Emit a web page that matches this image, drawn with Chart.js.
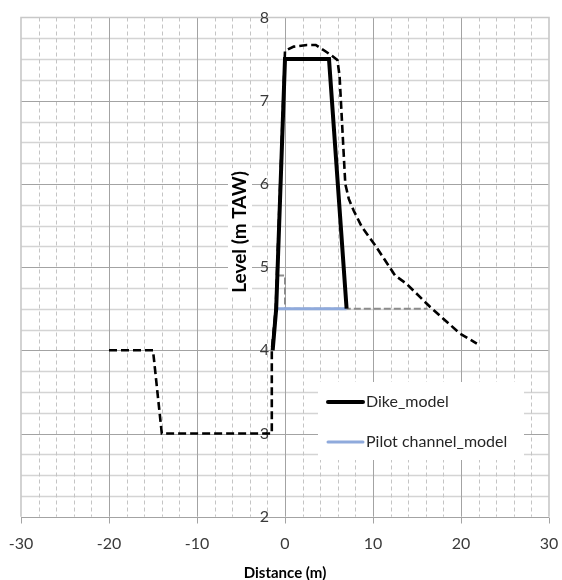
<!DOCTYPE html>
<html>
<head>
<meta charset="utf-8">
<script src="https://cdn.jsdelivr.net/npm/chart.js@4.4.1/dist/chart.umd.min.js"></script>
<style>
  html, body { margin: 0; padding: 0; background: #ffffff; }
  #wrap { width: 562px; height: 580px; position: relative; }
</style>
</head>
<body>
<div id="wrap"><canvas id="c"></canvas></div>
<script>
// ---- data ----
const xTickLabels = [-30, -20, -10, 0, 10, 20, 30];
const yTickLabels = [2, 3, 4, 5, 6, 7, 8];

const dikeX = [-1.4, -1.0, 0, 5, 7];
const dikeY = [4.0, 4.5, 7.5, 7.5, 4.5];

const pilotX = [-1.0, 7.0];
const pilotY = [4.5, 4.5];

const channelRefX = [-0.9, 0, 0, 16.2];
const channelRefY = [4.9, 4.9, 4.5, 4.5];

const profileX = [-20, -15, -14, -1.5, -1.5, -1.05, 0, 1, 2.5, 3.5, 4.5, 5.2, 5.95, 6.2, 6.35, 6.6, 6.85, 7.25, 7.8, 8.7, 9.5, 10.2, 12.5, 13.8, 16.5, 19.9, 21.8];
const profileY = [4.0, 4.0, 3.0, 3.0, 4.0, 4.5, 7.6, 7.65, 7.67, 7.67, 7.6, 7.55, 7.49, 7.3, 7.0, 6.5, 6.0, 5.82, 5.68, 5.49, 5.37, 5.27, 4.9, 4.8, 4.52, 4.2, 4.08];

const legendLabels = ['Dike_model', 'Pilot channel_model'];
const xTitle = 'Distance (m)';
const yTitle = 'Level (m TAW)';

const toPts = (xs, ys) => xs.map((v, i) => ({ x: v, y: ys[i] }));

const FONT = 'Lato, "Open Sans", sans-serif';

const excelPlugin = {
  id: 'excelLook',
  beforeDatasetsDraw(chart) {
    const { ctx, chartArea: a, scales: { x, y } } = chart;
    ctx.save();
    // minor horizontal lines (every 0.25)
    ctx.strokeStyle = '#d4d4d4';
    ctx.lineWidth = 1.6;
    for (let i = 0; i <= 24; i++) {
      const v = 2 + i * 0.25;
      if (i % 4 === 0) continue;
      const py = Math.round(y.getPixelForValue(v)) + 0.5;
      ctx.beginPath(); ctx.moveTo(a.left, py); ctx.lineTo(a.right, py); ctx.stroke();
    }
    // minor vertical dashed (every 2)
    ctx.strokeStyle = '#c4c4c4';
    ctx.lineWidth = 1;
    ctx.setLineDash([4, 3]);
    for (let v = -28; v < 30; v += 2) {
      if (v % 10 === 0) continue;
      const px = Math.round(x.getPixelForValue(v)) + 0.5;
      ctx.beginPath(); ctx.moveTo(px, a.top); ctx.lineTo(px, a.bottom); ctx.stroke();
    }
    ctx.setLineDash([]);
    // major lines
    ctx.strokeStyle = '#a3a3a3';
    ctx.lineWidth = 1;
    yTickLabels.forEach(v => {
      if (v === 8) return;
      const py = Math.round(y.getPixelForValue(v)) + 0.5;
      ctx.beginPath(); ctx.moveTo(a.left, py); ctx.lineTo(a.right, py); ctx.stroke();
    });
    xTickLabels.forEach(v => {
      if (v === -30 || v === 30) return;
      const px = Math.round(x.getPixelForValue(v)) + 0.5;
      ctx.beginPath(); ctx.moveTo(px, a.top); ctx.lineTo(px, a.bottom); ctx.stroke();
    });
    // plot border (top, left, right)
    ctx.strokeStyle = '#c8c8c8';
    ctx.lineWidth = 1.6;
    ctx.beginPath();
    ctx.moveTo(a.left, a.bottom); ctx.lineTo(a.left, a.top); ctx.lineTo(a.right, a.top); ctx.lineTo(a.right, a.bottom);
    ctx.stroke();
    // x-axis line with tick marks
    ctx.strokeStyle = '#a3a3a3';
    ctx.lineWidth = 1;
    const by = Math.round(y.getPixelForValue(2)) + 0.5;
    ctx.beginPath(); ctx.moveTo(a.left, by); ctx.lineTo(a.right, by); ctx.stroke();
    xTickLabels.forEach(v => {
      const px = Math.round(x.getPixelForValue(v)) + 0.5;
      ctx.beginPath(); ctx.moveTo(px, by); ctx.lineTo(px, by + 6); ctx.stroke();
    });

    // y title with white box
    const zx = x.getPixelForValue(0);
    ctx.save();
    ctx.translate(zx - 45, 232);
    ctx.rotate(-Math.PI / 2);
    ctx.font = 'bold 19px ' + FONT;
    const tw = ctx.measureText(yTitle).width;
    ctx.fillStyle = '#ffffff';
    ctx.fillRect(-tw / 2 - 3, -12, tw + 6, 24);
    ctx.fillStyle = '#000000';
    ctx.textAlign = 'center';
    ctx.textBaseline = 'middle';
    ctx.fillText(yTitle, 0, 0);
    ctx.restore();

    // y tick labels beside x=0 axis
    ctx.font = '16px ' + FONT;
    ctx.fillStyle = '#3a3a3a';
    ctx.textAlign = 'right';
    ctx.textBaseline = 'middle';
    yTickLabels.forEach(v => {
      ctx.fillText(String(v), zx - 16, y.getPixelForValue(v));
    });
    ctx.restore();
  },
  afterDraw(chart) {
    const { ctx, chartArea: a, scales: { x, y } } = chart;
    ctx.save();
    // x tick labels
    ctx.font = '16px ' + FONT;
    ctx.fillStyle = '#3a3a3a';
    ctx.textAlign = 'center';
    ctx.textBaseline = 'middle';
    xTickLabels.forEach(v => {
      ctx.fillText(String(v), x.getPixelForValue(v), a.bottom + 27);
    });
    // x title
    ctx.font = 'bold 15px ' + FONT;
    ctx.fillStyle = '#000000';
    ctx.fillText(xTitle, x.getPixelForValue(0), a.bottom + 56);

    // legend
    ctx.fillStyle = '#ffffff';
    ctx.fillRect(318, 382, 206, 78);
    const ds = chart.data.datasets;
    const rows = [402, 442];
    legendLabels.forEach((lab, i) => {
      const d = ds[i];
      ctx.strokeStyle = d.borderColor;
      ctx.lineWidth = d.borderWidth;
      ctx.lineCap = 'round';
      ctx.beginPath(); ctx.moveTo(328, rows[i]); ctx.lineTo(363, rows[i]); ctx.stroke();
      ctx.font = '16px ' + FONT;
      ctx.fillStyle = '#262626';
      ctx.textAlign = 'left';
      ctx.textBaseline = 'middle';
      ctx.fillText(lab, 366, rows[i]);
    });
    ctx.restore();
  }
};

new Chart(document.getElementById('c'), {
  type: 'scatter',
  data: {
    datasets: [
      { label: legendLabels[0], data: toPts(dikeX, dikeY), showLine: true, borderColor: '#000000', borderWidth: 4, pointRadius: 0, borderJoinStyle: 'miter' },
      { label: legendLabels[1], data: toPts(pilotX, pilotY), showLine: true, borderColor: '#8faadc', borderWidth: 3, pointRadius: 0 },
      { label: 'channel', data: toPts(channelRefX, channelRefY), showLine: true, borderColor: '#8c8c8c', borderWidth: 2, borderDash: [7, 3], pointRadius: 0 },
      { label: 'profile', data: toPts(profileX, profileY), showLine: true, borderColor: '#000000', borderWidth: 2.6, borderDash: [8, 4], pointRadius: 0 }
    ]
  },
  options: {
    responsive: true,
    maintainAspectRatio: false,
    animation: false,
    layout: { padding: { left: 21, right: 13, top: 17.5, bottom: 63.3 } },
    plugins: { legend: { display: false }, tooltip: { enabled: false } },
    scales: {
      x: { type: 'linear', min: -30, max: 30, display: false },
      y: { type: 'linear', min: 2, max: 8, display: false }
    }
  },
  plugins: [excelPlugin]
});
</script>
</body>
</html>
